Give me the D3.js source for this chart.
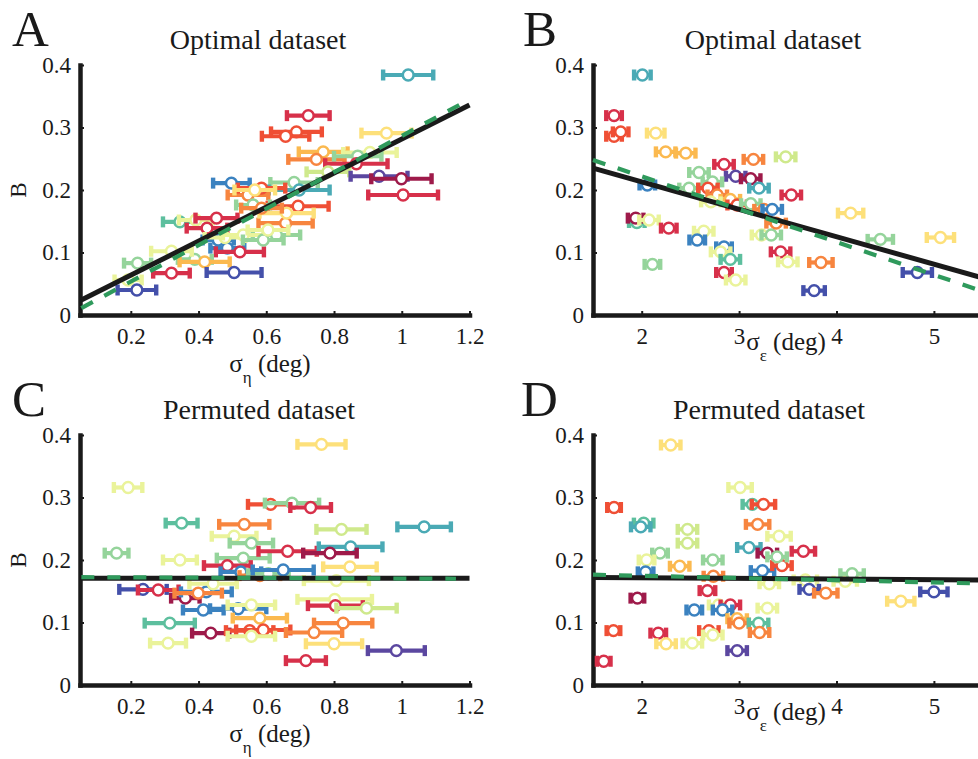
<!DOCTYPE html>
<html>
<head>
<meta charset="utf-8">
<script src="https://cdn.jsdelivr.net/npm/d3@7"></script>
<style>
  body { margin: 0; background: #fff; }
  svg { display: block; }
  text { font-family: "Liberation Serif", "Times New Roman", serif; fill: #1a1a1a; }
</style>
</head>
<body>
<div id="chart"></div>
<script>
// Spectral colour keys used by the subjects
const palette = {
  dr: "#9e1a4a", cr: "#d7304a", ro: "#ef4f35", or: "#f7853f", yo: "#fbb94f",
  ye: "#fde07a", ly: "#eaf39a", yg: "#cfe98c", lg: "#95d49b", tg: "#5dbf9e",
  tb: "#4aaab5", bl: "#3b82c0", pb: "#4450aa", pu: "#5b47a0"
};

// Panel A: optimal dataset, B vs sigma_eta
const aX   = [1.019,0.724,0.689,0.657,0.955,0.768,0.748,0.906,0.870,0.866,0.782,0.933,0.999,1.004,0.682,0.697,0.694,0.657,0.660,0.630,
              0.497,0.345,0.392,0.453,0.425,0.458,0.485,0.522,0.478,0.532,0.591,0.605,0.389,0.418,0.505,0.320,0.320,0.220,0.192,0.218,
              0.546,0.586,0.566,0.561,0.586];
const aY   = [0.384,0.319,0.293,0.286,0.291,0.261,0.249,0.260,0.254,0.242,0.229,0.222,0.218,0.192,0.212,0.200,0.174,0.147,0.163,0.128,
              0.211,0.149,0.152,0.155,0.139,0.120,0.107,0.101,0.124,0.128,0.120,0.136,0.089,0.085,0.068,0.067,0.102,0.083,0.056,0.040,
              0.192,0.203,0.200,0.176,0.171];
const aErr = [0.074,0.063,0.075,0.070,0.074,0.072,0.083,0.079,0.070,0.092,0.063,0.084,0.089,0.103,0.070,0.090,0.090,0.080,0.080,0.070,
              0.054,0.050,0.050,0.062,0.060,0.046,0.050,0.071,0.060,0.060,0.060,0.060,0.050,0.074,0.081,0.054,0.060,0.040,0.040,0.057,
              0.060,0.070,0.060,0.050,0.060];
const aCol = ["tb","cr","ro","ro","ye","yo","or","ly","lg","cr","yg","pu","dr","cr","lg","tb","ro","or","ye","lg",
              "bl","tg","ly","cr","cr","bl","bl","cr","ly","ly","lg","ly","lg","yo","pb","cr","ly","lg","ly","pb",
              "or","ro","ye","lg","or"];

// Panel B: optimal dataset, B vs sigma_epsilon
const bX   = [2.007,1.716,1.716,1.784,2.144,2.246,2.452,2.845,3.147,3.478,2.588,2.965,3.119,2.726,2.058,2.486,3.204,2.680,2.776,2.910,
              2.710,2.980,3.120,3.256,3.340,1.950,1.938,2.075,2.278,2.637,2.570,3.230,3.330,2.845,2.810,2.910,3.426,2.110,2.845,2.965,
              3.536,4.145,4.450,5.067,4.830,3.500,3.840,3.770,3.380];
const bY   = [0.384,0.319,0.286,0.293,0.291,0.261,0.259,0.241,0.249,0.253,0.228,0.222,0.218,0.213,0.208,0.203,0.203,0.203,0.192,0.185,
              0.181,0.176,0.178,0.169,0.169,0.148,0.155,0.152,0.139,0.134,0.120,0.128,0.128,0.109,0.101,0.089,0.101,0.081,0.068,0.056,
              0.192,0.163,0.121,0.124,0.068,0.085,0.084,0.039,0.147];
const bErr = [0.085,0.080,0.080,0.080,0.090,0.100,0.100,0.100,0.100,0.100,0.100,0.100,0.100,0.100,0.080,0.100,0.100,0.100,0.100,0.100,
              0.100,0.100,0.100,0.100,0.100,0.080,0.080,0.100,0.080,0.100,0.080,0.100,0.100,0.080,0.100,0.100,0.100,0.080,0.080,0.100,
              0.100,0.130,0.130,0.140,0.150,0.100,0.120,0.110,0.100];
const bCol = ["tb","cr","ro","ro","ye","yo","yo","cr","or","yg","lg","pu","dr","lg","bl","lg","tb","ro","or","yo",
              "ly","ro","lg","or","bl","tg","dr","ly","cr","ly","bl","ly","lg","bl","ly","tg","cr","lg","cr","ly",
              "cr","ye","lg","ye","pb","ly","or","pb","or"];

// Panel C: permuted dataset, B vs sigma_eta
const cX   = [0.192,0.350,0.158,0.345,0.613,0.535,0.505,0.556,0.532,0.485,0.663,0.525,0.581,0.606,0.650,0.236,0.281,0.361,0.423,0.399,
              0.443,0.414,0.517,0.556,0.581,0.315,0.436,0.551,0.591,0.556,0.310,0.763,0.676,0.731,0.822,1.066,0.849,0.788,0.847,0.807,
              0.802,0.804,0.896,0.827,0.741,0.800,0.984,0.717];
const cY   = [0.316,0.259,0.211,0.200,0.289,0.257,0.238,0.227,0.203,0.191,0.214,0.181,0.175,0.178,0.184,0.153,0.152,0.139,0.149,0.147,
              0.162,0.120,0.122,0.128,0.107,0.099,0.083,0.087,0.088,0.078,0.067,0.385,0.291,0.284,0.249,0.253,0.221,0.211,0.189,0.167,
              0.137,0.127,0.123,0.099,0.084,0.066,0.055,0.039];
const cErr = [0.042,0.047,0.035,0.050,0.067,0.074,0.066,0.064,0.078,0.069,0.086,0.060,0.060,0.060,0.090,0.070,0.060,0.042,0.075,0.070,
              0.070,0.060,0.083,0.070,0.080,0.074,0.055,0.070,0.080,0.070,0.053,0.071,0.080,0.060,0.074,0.079,0.094,0.079,0.079,0.096,
              0.110,0.081,0.089,0.086,0.083,0.083,0.084,0.059];
const cCol = ["ly","tg","lg","ly","ro","or","ly","lg","lg","cr","cr","bl","or","lg","bl","pb","cr","dr","bl","or",
              "ly","bl","bl","ly","yo","tg","dr","ro","ro","ly","ly","ye","lg","cr","yg","tb","tb","dr","ye","ly",
              "ly","cr","yg","or","or","ye","pu","cr"];

// Panel D: permuted dataset, B vs sigma_epsilon
const dX   = [2.298,3.010,3.136,3.250,1.716,3.190,2.020,1.990,2.470,2.470,3.410,3.100,3.290,2.188,2.050,2.730,2.390,2.040,2.736,3.240,
              3.310,1.956,2.675,2.790,2.910,2.540,2.830,3.290,2.980,3.000,3.200,1.710,2.170,2.690,2.730,3.210,2.250,2.520,2.980,1.610,
              3.660,3.440,3.390,3.680,3.720,3.890,4.090,4.160,4.660,5.000];
const dY   = [0.384,0.316,0.289,0.289,0.284,0.257,0.259,0.253,0.249,0.227,0.238,0.220,0.211,0.211,0.200,0.200,0.190,0.181,0.174,0.183,
              0.162,0.139,0.151,0.128,0.128,0.120,0.120,0.123,0.106,0.099,0.099,0.087,0.083,0.087,0.080,0.084,0.066,0.067,0.055,0.038,
              0.214,0.191,0.205,0.168,0.153,0.147,0.166,0.178,0.134,0.149];
const dErr = [0.100,0.120,0.100,0.120,0.070,0.120,0.100,0.100,0.100,0.100,0.120,0.120,0.100,0.080,0.080,0.100,0.100,0.080,0.100,0.120,
              0.100,0.070,0.080,0.100,0.100,0.080,0.100,0.100,0.100,0.100,0.100,0.070,0.080,0.100,0.100,0.100,0.100,0.100,0.100,0.070,
              0.120,0.100,0.100,0.120,0.100,0.120,0.120,0.120,0.140,0.140];
const dCol = ["ye","ly","tg","ro","ro","or","tg","tb","yg","yg","ly","tb","dr","lg","ly","lg","yo","bl","or","bl",
              "ly","dr","cr","ly","cr","bl","bl","ly","yo","or","tg","ro","cr","ro","ly","or","ye","ly","pu","cr",
              "cr","ro","lg","ly","pb","or","ly","lg","ye","pb"];

// Regression lines [x0, y0, x1, y1]: black = fit, green = reference
const aFit = [0.054, 0.024, 1.20, 0.336],  aRef = [0.054, 0.011, 1.18, 0.339];
const bFit = [1.50, 0.235, 5.50, 0.0594],  bRef = [1.50, 0.248, 5.50, 0.038];
const cFit = [0.054, 0.171, 1.20, 0.171],  cRef = [0.054, 0.1725, 1.16, 0.170];
const dFit = [1.50, 0.172, 5.50, 0.168],   dRef = [1.50, 0.1765, 5.50, 0.1623];

// Tick values
const etaTicks = [0.2, 0.4, 0.6, 0.8, 1, 1.2];
const epsTicks = [2, 3, 4, 5];
const bTicks   = [0, 0.1, 0.2, 0.3, 0.4];

const W = 978, H = 759;
const FONT = "Liberation Serif, Times New Roman, serif";
const svg = d3.select("#chart").append("svg").attr("width", W).attr("height", H);

function drawPanel(p) {
  const g = svg.append("g");
  const x = d3.scaleLinear().domain(p.xDomain).range([p.left, p.left + p.xLen]);
  const y = d3.scaleLinear().domain([0, 0.4]).range([p.bottom, p.bottom - 250]);

  // axes
  const xa = g.append("g").attr("transform", `translate(0,${p.bottom})`)
    .call(d3.axisBottom(x).tickValues(p.xTicks).tickSizeInner(-4).tickSizeOuter(0)
      .tickPadding(13).tickFormat(d3.format("")));
  const ya = g.append("g").attr("transform", `translate(${p.left},0)`)
    .call(d3.axisLeft(y).tickValues(bTicks).tickSizeInner(-4).tickSizeOuter(0)
      .tickPadding(9).tickFormat(d3.format("")));
  [xa, ya].forEach(a => {
    a.attr("font-family", FONT).attr("font-size", 23);
    a.select(".domain").attr("stroke", "#1a1a1a").attr("stroke-width", 4.5).attr("stroke-linecap", "square");
    a.selectAll(".tick line").attr("stroke", "#1a1a1a").attr("stroke-width", 2);
    a.selectAll(".tick text").attr("fill", "#1a1a1a");
  });

  // points with horizontal error bars
  const pts = g.append("g").selectAll("g").data(p.xs.map((v, i) => i)).join("g")
    .attr("transform", i => `translate(0,${y(p.ys[i])})`);
  pts.append("line")
    .attr("x1", i => x(p.xs[i] - p.errs[i])).attr("x2", i => x(p.xs[i] + p.errs[i]))
    .attr("stroke", i => palette[p.cols[i]]).attr("stroke-width", 4.2);
  [-1, 1].forEach(s => {
    pts.append("rect")
      .attr("x", i => x(p.xs[i] + s * p.errs[i]) - 2.2).attr("y", -5.5)
      .attr("width", 4.4).attr("height", 11)
      .attr("fill", i => palette[p.cols[i]]);
  });
  pts.append("circle")
    .attr("cx", i => x(p.xs[i])).attr("r", 5.4)
    .attr("fill", "#fff").attr("stroke", i => palette[p.cols[i]]).attr("stroke-width", 2.5);

  // fit lines
  const ln = d3.line().x(d => x(d[0])).y(d => y(d[1]));
  g.append("path").attr("d", ln([[p.fit[0], p.fit[1]], [p.fit[2], p.fit[3]]]))
    .attr("stroke", "#1a1a1a").attr("stroke-width", 5).attr("fill", "none");
  g.append("path").attr("d", ln([[p.ref[0], p.ref[1]], [p.ref[2], p.ref[3]]]))
    .attr("stroke", "#2f9a5c").attr("stroke-width", 4.2).attr("fill", "none")
    .attr("stroke-dasharray", "13,13");

  // labels
  g.append("text").attr("x", p.letterX).attr("y", p.bottom - 269).attr("font-size", 51).text(p.letter);
  g.append("text").attr("x", p.titleX).attr("y", p.bottom - 266).attr("font-size", 28)
    .attr("text-anchor", "middle").text(p.title);
  if (p.yLabel) {
    g.append("text").attr("transform", `translate(26,${p.bottom - 125}) rotate(-90)`)
      .attr("font-size", 23).attr("text-anchor", "middle").text("B");
  }
  const xl = g.append("text").attr("x", p.xLabelX).attr("y", p.bottom + p.xLabelDy)
    .attr("font-size", 25).attr("text-anchor", "middle");
  xl.append("tspan").text("σ");
  xl.append("tspan").attr("font-size", 17).attr("dy", 11).text(p.sub);
  xl.append("tspan").attr("dy", -11).text(" (deg)");
}

const panels = [
  { letter: "A", title: "Optimal dataset", xs: aX, ys: aY, errs: aErr, cols: aCol, fit: aFit, ref: aRef,
    xDomain: [0.05, 1.2], xLen: 389.5, left: 80, bottom: 315, xTicks: etaTicks, sub: "η",
    letterX: 12, titleX: 258, yLabel: true, xLabelX: 270, xLabelDy: 57 },
  { letter: "B", title: "Optimal dataset", xs: bX, ys: bY, errs: bErr, cols: bCol, fit: bFit, ref: bRef,
    xDomain: [1.5, 5.5], xLen: 389.6, left: 593, bottom: 315, xTicks: epsTicks, sub: "ε",
    letterX: 523, titleX: 773, yLabel: false, xLabelX: 786, xLabelDy: 35 },
  { letter: "C", title: "Permuted dataset", xs: cX, ys: cY, errs: cErr, cols: cCol, fit: cFit, ref: cRef,
    xDomain: [0.05, 1.2], xLen: 389.5, left: 80, bottom: 685, xTicks: etaTicks, sub: "η",
    letterX: 12, titleX: 259, yLabel: true, xLabelX: 270, xLabelDy: 57 },
  { letter: "D", title: "Permuted dataset", xs: dX, ys: dY, errs: dErr, cols: dCol, fit: dFit, ref: dRef,
    xDomain: [1.5, 5.5], xLen: 389.6, left: 593, bottom: 685, xTicks: epsTicks, sub: "ε",
    letterX: 521, titleX: 769, yLabel: false, xLabelX: 786, xLabelDy: 35 }
];
panels.forEach(drawPanel);
</script>
</body>
</html>
